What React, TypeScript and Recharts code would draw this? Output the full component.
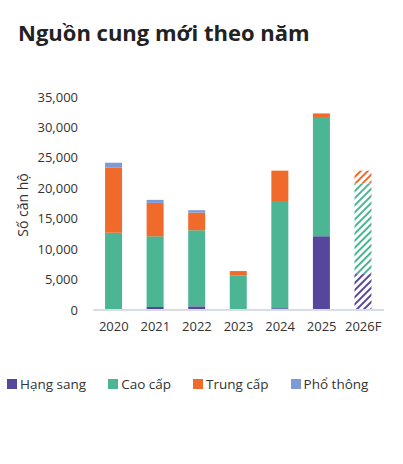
import { BarChart, Bar, XAxis, YAxis, Cell, Label } from "recharts";

const years = ["2020", "2021", "2022", "2023", "2024", "2025", "2026F"];
const hangSang = [0, 500, 600, 0, 300, 12100, 5900];
const caoCap = [12700, 11600, 12500, 5700, 17600, 19600, 14900];
const trungCap = [10700, 5500, 2900, 700, 5000, 600, 2100];
const phoThong = [800, 500, 400, 0, 0, 0, 0];
const yTicks = [0, 5000, 10000, 15000, 20000, 25000, 30000, 35000];

const forecastYear = "2026F";

const series = [
  { key: "hangSang", name: "Hạng sang", color: "#56479c", values: hangSang },
  { key: "caoCap", name: "Cao cấp", color: "#4cb593", values: caoCap },
  { key: "trungCap", name: "Trung cấp", color: "#f06a2b", values: trungCap },
  { key: "phoThong", name: "Phổ thông", color: "#7e9ad6", values: phoThong },
];

const data = years.map((year, i) => {
  const row: { [key: string]: any } = { year };
  series.forEach((s) => {
    row[s.key] = s.values[i];
  });
  return row;
});

const font = "'Open Sans', sans-serif";

function Legend() {
  return (
    <div
      style={{
        position: "absolute",
        top: 375,
        left: 7,
        display: "flex",
        fontFamily: font,
        fontSize: 13.5,
        color: "#333",
        whiteSpace: "nowrap",
      }}
    >
      {series.map((s) => (
        <div
          key={s.key}
          style={{ display: "flex", alignItems: "center", marginRight: 22, flexShrink: 0 }}
        >
          <span
            style={{
              display: "inline-block",
              width: 10,
              height: 10,
              background: s.color,
              marginRight: 3,
            }}
          />
          {s.name}
        </div>
      ))}
    </div>
  );
}

export default function App() {
  return (
    <div
      style={{
        position: "absolute",
        top: 0,
        left: 0,
        width: 403,
        height: 464,
        background: "#fff",
      }}
    >
      <div
        style={{
          position: "absolute",
          top: 17,
          left: 18,
          fontFamily: font,
          fontWeight: 700,
          fontSize: 22,
          color: "#222",
          whiteSpace: "nowrap",
        }}
      >
        Nguồn cung mới theo năm
      </div>
      <BarChart
        width={403}
        height={340}
        data={data}
        margin={{ top: 97, right: 19, bottom: 0, left: 0 }}
        barCategoryGap="29%"
        style={{ position: "absolute", top: 0, left: 0 }}
      >
        <defs>
          {/* diagonal stripes for the forecast year */}
          {series.map((s) => (
            <pattern
              key={s.key}
              id={`hatch-${s.key}`}
              patternUnits="userSpaceOnUse"
              width={5}
              height={5}
              patternTransform="rotate(45)"
            >
              <rect width={5} height={5} fill="#fff" />
              <line x1={0} y1={0} x2={0} y2={5} stroke={s.color} strokeWidth={4} />
            </pattern>
          ))}
        </defs>
        <XAxis
          dataKey="year"
          height={30}
          tickLine={false}
          axisLine={{ stroke: "#d8dcea", strokeWidth: 2 }}
          tick={{ fontFamily: font, fontSize: 13, fill: "#333" }}
          tickMargin={6}
        />
        <YAxis
          width={93}
          domain={[0, 35000]}
          ticks={yTicks}
          tickLine={false}
          axisLine={false}
          tickMargin={9}
          tickFormatter={(v: number) => v.toLocaleString("en-US")}
          tick={{ fontFamily: font, fontSize: 13, fill: "#333" }}
        >
          <Label
            content={() => (
              <text
                x={24}
                y={205}
                transform="rotate(-90 24 205)"
                textAnchor="middle"
                dominantBaseline="middle"
                fontFamily={font}
                fontSize={14}
                fill="#333"
              >
                Số căn hộ
              </text>
            )}
          />
        </YAxis>
        {series.map((s) => (
          <Bar
            key={s.key}
            dataKey={s.key}
            name={s.name}
            stackId="supply"
            fill={s.color}
            isAnimationActive={false}
          >
            {data.map((d) => (
              <Cell
                key={d.year}
                fill={d.year === forecastYear ? `url(#hatch-${s.key})` : s.color}
              />
            ))}
          </Bar>
        ))}
      </BarChart>
      <Legend />
    </div>
  );
}
